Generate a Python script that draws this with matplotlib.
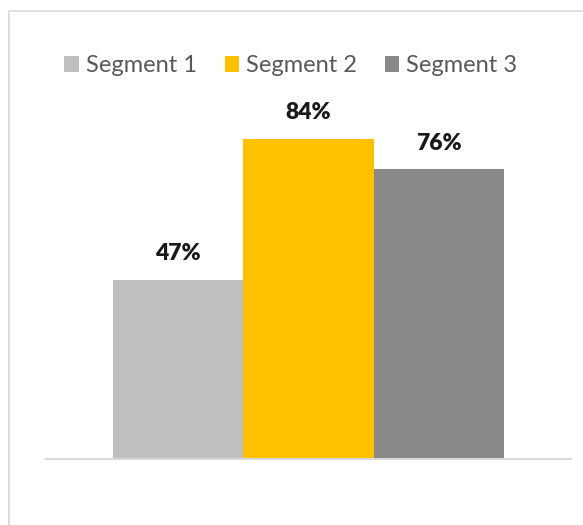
import matplotlib.pyplot as plt
from matplotlib.patches import Rectangle

# data
segments = ['Segment 1', 'Segment 2', 'Segment 3']
values = [0.47, 0.84, 0.76]
colors = ['#bfbfbf', '#ffc000', '#898989']

plt.rcParams['font.family'] = ['Lato', 'DejaVu Sans']

W, H = 583, 525
fig = plt.figure(figsize=(W / 100, H / 100), dpi=100)

# outer chart frame (right/bottom edges run off the image)
fig.patches.append(Rectangle((8.5 / W, -0.1), 1.2, 1 - 11.5 / H + 0.1,
                             transform=fig.transFigure, fill=False,
                             edgecolor='#d9d9d9', linewidth=1.2))

ax = fig.add_axes([46 / W, 66 / H, 525 / W, 381 / H])
for i, (name, v, c) in enumerate(zip(segments, values, colors)):
    ax.bar(i, v, width=1.0, color=c, label=name, zorder=2)
    ax.annotate(f'{v:.0%}', (i, v), xytext=(0, 19), textcoords='offset points',
                ha='center', va='center', fontsize=16.5, fontweight='heavy',
                color='#1a1a1a')

ax.set_xlim(-1.009, 3.009)
ax.set_ylim(0, 1)
for s in ['top', 'right', 'left']:
    ax.spines[s].set_visible(False)
ax.spines['bottom'].set_color('#d9d9d9')
ax.spines['bottom'].set_linewidth(1.5)
ax.set_xticks([])
ax.set_yticks([])

fig.legend(loc='center', bbox_to_anchor=(291 / W, 1 - 66 / H), ncol=3,
           frameon=False, fontsize=17, handlelength=0.63,
           handleheight=0.63, handletextpad=0.3, columnspacing=1.15,
           labelcolor='#595959')

fig.savefig('out.png', dpi=100)
